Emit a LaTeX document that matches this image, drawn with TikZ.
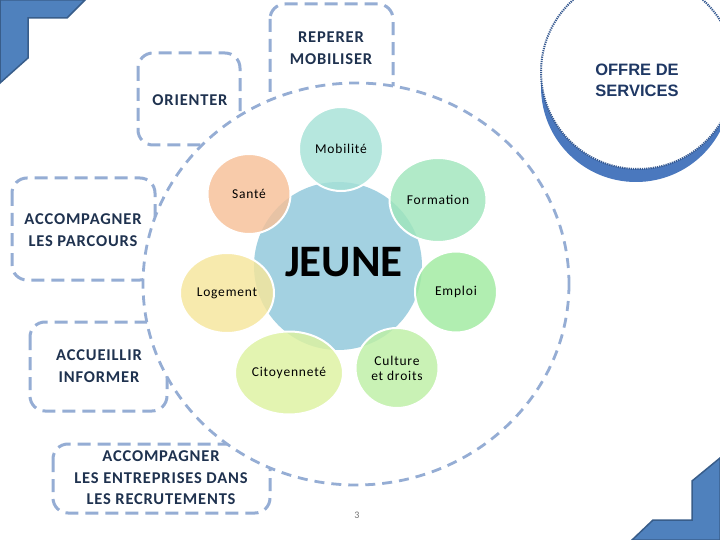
\documentclass[tikz,border=0pt]{standalone}
\usepackage{fontspec}
\setmainfont{Carlito}
\newfontfamily\arialfont{Liberation Sans}
\newfontfamily\lblfont[LetterSpace=6]{Carlito}
\newfontfamily\boxfont[LetterSpace=5]{Carlito}
\usetikzlibrary{shapes.geometric}
\definecolor{dashblue}{RGB}{149,173,212}
\definecolor{boxtext}{RGB}{31,50,79}
\definecolor{offretext}{RGB}{31,56,100}
\definecolor{dotblue}{RGB}{55,90,145}
\definecolor{shadowblue}{RGB}{74,120,190}
\definecolor{cornerfill}{RGB}{79,129,189}
\definecolor{cornerdraw}{RGB}{56,93,138}
\definecolor{cjeune}{RGB}{163,209,225}
\definecolor{cmob}{RGB}{166,226,215}
\definecolor{csante}{RGB}{247,192,152}
\definecolor{cform}{RGB}{160,230,188}
\definecolor{cemploi}{RGB}{160,235,160}
\definecolor{cculture}{RGB}{190,240,165}
\definecolor{ccit}{RGB}{222,242,160}
\definecolor{clog}{RGB}{246,230,155}
\tikzset{
  boxline/.style={draw=dashblue, line width=3pt, dash pattern=on 13pt off 7pt, rounded corners=15pt},
  bigring/.style={draw=dashblue, line width=2.8pt, dash pattern=on 10pt off 7pt},
  boxlabel/.style={text=boxtext, font=\boxfont\fontsize{16.5}{21.5}\selectfont\bfseries, align=center, inner sep=0pt},
  petal/.style={ellipse, draw=white, line width=2pt, fill opacity=0.82, text opacity=1, inner sep=0pt,
    font=\lblfont\fontsize{13.5}{15}\selectfont, align=center, text=black},
  corner/.style={fill=cornerfill, draw=cornerdraw, line width=1.5pt, line join=miter}
}
\begin{document}
\begin{tikzpicture}[x=1pt,y=-1pt]
\useasboundingbox (0,0) rectangle (720,540);
\fill[white] (0,0) rectangle (720,540);

% big dashed ring
\coordinate (ringc) at (356,284);
\draw[bigring] (ringc) ellipse [x radius=213, y radius=201];

% callout boxes, clipped outside the ring
\begin{scope}[even odd rule]
  \clip (0,0) rectangle (720,540) (356,284) ellipse [x radius=213, y radius=201];
  \draw[boxline] (270,4) rectangle (393,112);
  \draw[boxline] (138,53) rectangle (240,145);
  \draw[boxline] (12,178) rectangle (155,280);
  \draw[boxline] (30,322) rectangle (167,411);
  \draw[boxline] (53,444) rectangle (270,513);
\end{scope}

\node[boxlabel] (reperer) at (331,48) {REPERER\\MOBILISER};
\node[boxlabel] (orienter) at (190,100) {ORIENTER};
\node[boxlabel] (parcours) at (83,230) {ACCOMPAGNER\\LES PARCOURS};
\node[boxlabel] (accueil) at (99,366) {ACCUEILLIR\\INFORMER};
\node[boxlabel] (entreprises) at (161,478) {ACCOMPAGNER\\LES ENTREPRISES DANS\\LES RECRUTEMENTS};

% central cluster
\node[circle, fill=cjeune, minimum size=168pt, inner sep=0pt] (jeune) at (338,266) {};
\node[petal, fill=cmob, minimum width=84pt, minimum height=84pt] (mob) at (341,149) {Mobilité};
\node[petal, fill=csante, minimum width=83pt, minimum height=80pt] (sante) at (249,194) {Santé};
\node[petal, fill=cform, minimum width=97pt, minimum height=84pt] (form) at (438,200) {Formation};
\node[petal, fill=cemploi, minimum width=82pt, minimum height=81pt] (emploi) at (456,292) {Emploi};
\node[petal, fill=cculture, minimum width=83pt, minimum height=80pt] (culture) at (397,368) {Culture\\et droits};
\node[petal, fill=ccit, minimum width=108pt, minimum height=83pt] (cit) at (289,373) {Citoyenneté};
\node[petal, fill=clog, minimum width=94pt, minimum height=80pt] (log) at (227,293) {Logement};
\node[font=\fontsize{45}{50}\selectfont\bfseries, text=black, inner sep=0pt] (jeunetxt) at (344,262) {JEUNE};

% OFFRE DE SERVICES
\fill[shadowblue] (636,87) circle[radius=95];
\draw[fill=white, draw=dotblue, line width=2pt, dash pattern=on 1.2pt off 1pt] (638,72) circle[radius=97];
\node[font=\arialfont\fontsize{16.5}{21}\selectfont\bfseries, text=offretext, align=center, inner sep=0pt] (offre) at (637,80) {OFFRE DE\\SERVICES};

% corners
\draw[corner] (0,0) -- (85,0) -- (67,18) -- (28,18) -- (28,58) -- (0,83) -- cycle;
\draw[corner] (720,458) -- (692,481) -- (692,520) -- (653,520) -- (632,540) -- (720,540) -- cycle;

% page number
\node[font=\fontsize{10}{12}\selectfont, text=black!55, inner sep=0pt] (page) at (357,515) {3};
\end{tikzpicture}
\end{document}
